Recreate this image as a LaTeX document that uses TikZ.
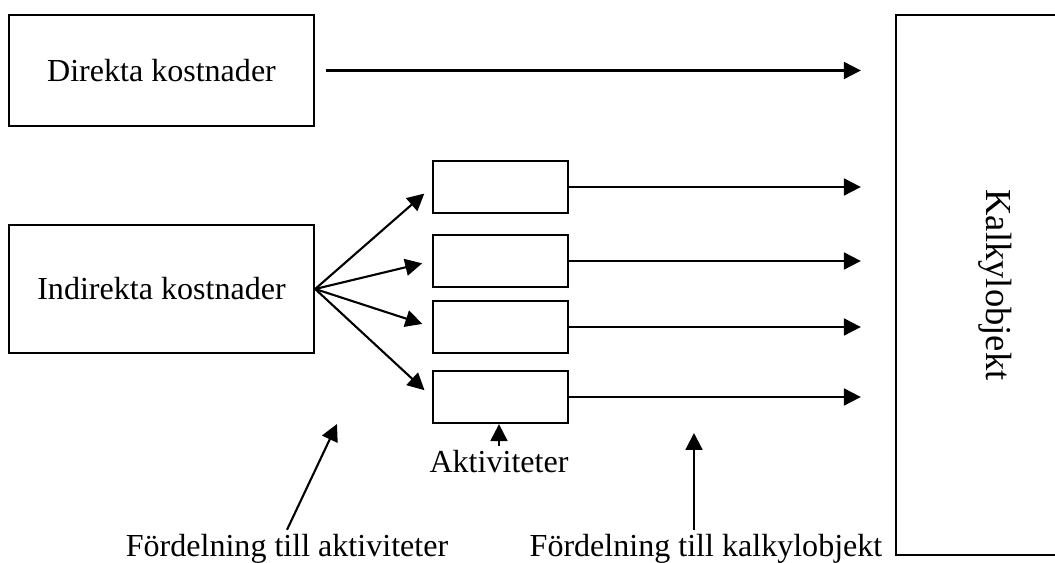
\documentclass[tikz,border=0pt]{standalone}
\usepackage{fontspec}
\setmainfont{Liberation Serif}
\usetikzlibrary{arrows.meta}

\tikzset{
  every node/.style={font=\fontsize{22.8pt}{27pt}\selectfont},
  box/.style={draw, line width=1.6pt, inner sep=0pt},
  pil/.style={line width=1.5pt, -{Triangle[length=12pt,width=12pt]}},
}

\begin{document}
\begin{tikzpicture}[x=0.025cm, y=-0.025cm]
            \useasboundingbox (0,0) rectangle (1055,563);

            \node[box, minimum width=7.625cm, minimum height=2.775cm] (direkta) at (161.5,70.5) {Direkta kostnader};
            \node[box, minimum width=7.625cm, minimum height=3.2cm] (indirekta) at (161.5,289) {Indirekta kostnader};
            \node[box, minimum width=4.95cm, minimum height=13.5cm,
                  label={[rotate=-90, font=\fontsize{26pt}{30pt}\selectfont]center:Kalkylobjekt}] (kalk) at (995,285) {};

            \foreach \i/\y in {1/187, 2/261, 3/327, 4/397}
                \node[box, minimum width=3.375cm, minimum height=1.3cm] (akt\i) at (500.5,\y) {};

            \draw[pil, shorten <=0.275cm, shorten >=0.85cm] (direkta.east) -- (direkta.east -| kalk.west);
            \foreach \i in {1,...,4} {
                \draw[pil, shorten >=0.25cm] (indirekta.east) -- (akt\i.west);
                \draw[pil, shorten >=0.85cm] (akt\i.east) -- (akt\i.east -| kalk.west);
            }

            \node (aktivitet) at (499,462) {Aktiviteter};
            \draw[pil] (aktivitet.north) -- (aktivitet.north |- akt4.south);

            \node[anchor=base] (fa) at (287,557) {Fördelning till aktiviteter};
            \node[anchor=base] (fk) at (706,557) {Fördelning till kalkylobjekt};
            \coordinate (fatip) at (337,424);
            \coordinate (fktip) at (694,433);
            \draw[pil] (fa.north) -- (fatip);
            \draw[pil] (fk.north -| fktip) -- (fktip);
        \end{tikzpicture}
\end{document}
